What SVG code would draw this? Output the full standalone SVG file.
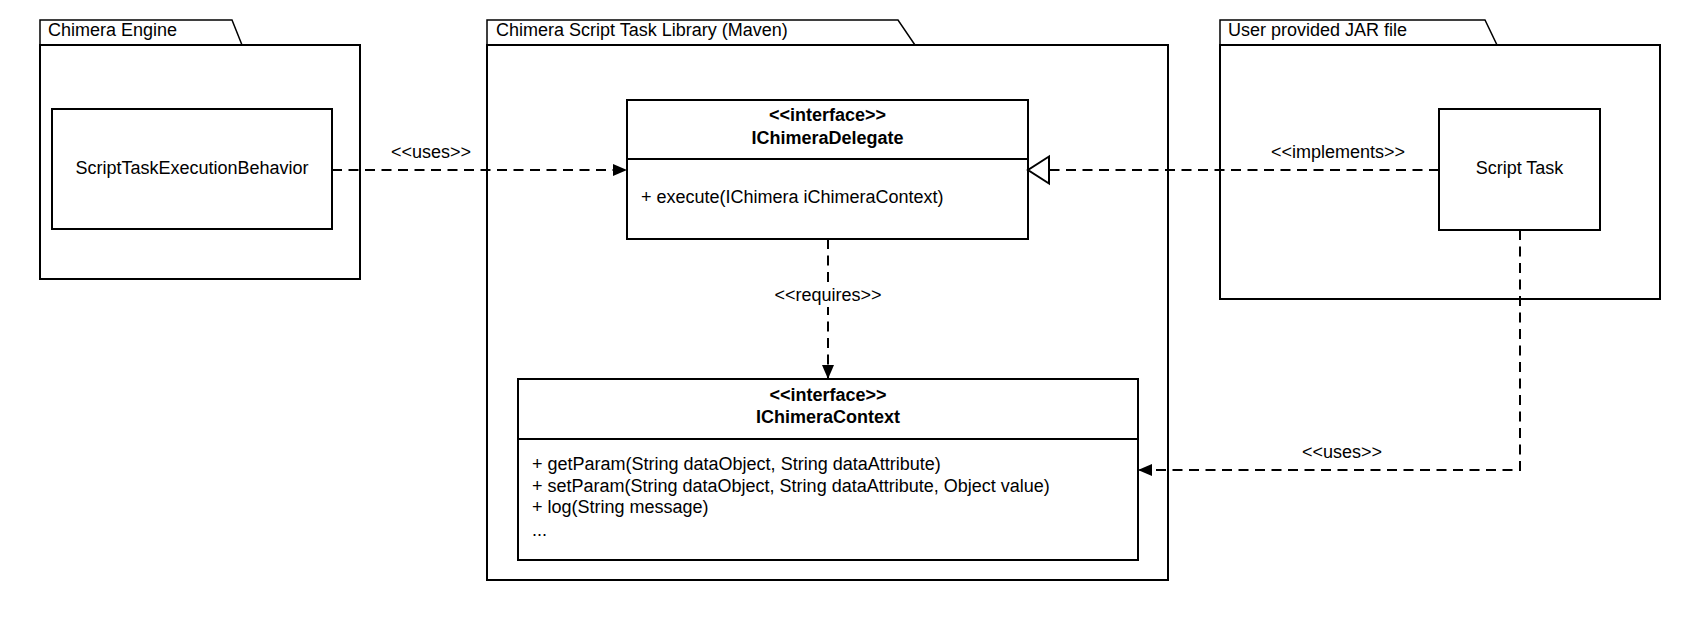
<svg xmlns="http://www.w3.org/2000/svg" width="1700" height="620" viewBox="0 0 1700 620">
<style>
text{font-family:"Liberation Sans",Arial,sans-serif;font-size:18px;fill:#000}
.b{font-weight:bold}
.m{text-anchor:middle}
.pkg{fill:#fff;stroke:#000;stroke-width:2}
.tab{fill:#fff;stroke:#000;stroke-width:1.5}
.box{fill:#fff;stroke:#000;stroke-width:2}
.dash{fill:none;stroke:#000;stroke-width:2;stroke-dasharray:10 6.5}
</style>
<defs>
<marker id="filled" markerWidth="14" markerHeight="12" refX="14" refY="6" orient="auto" markerUnits="userSpaceOnUse">
<path d="M0,0 L14,6 L0,12 Z" fill="#000"/>
</marker>
</defs>
<rect width="1700" height="620" fill="#fff"/>
<g id="pkg-engine">
<path class="tab" d="M40,45 L40,20 L232,20 L242,45 Z"/>
<rect class="pkg" x="40" y="45" width="320" height="234"/>
<text x="48" y="36">Chimera Engine</text>
</g>
<g id="pkg-library">
<path class="tab" d="M487,45 L487,20 L898,20 L915,45 Z"/>
<rect class="pkg" x="487" y="45" width="681" height="535"/>
<text x="496" y="36">Chimera Script Task Library (Maven)</text>
</g>
<g id="pkg-jar">
<path class="tab" d="M1220,45 L1220,20 L1485,20 L1497,45 Z"/>
<rect class="pkg" x="1220" y="45" width="440" height="254"/>
<text x="1228" y="36">User provided JAR file</text>
</g>
<g id="node-behavior">
<rect class="box" x="52" y="109" width="280" height="120"/>
<text class="m" x="192" y="174">ScriptTaskExecutionBehavior</text>
</g>
<g id="node-delegate">
<rect class="box" x="627" y="100" width="401" height="139"/>
<line x1="627" y1="159" x2="1028" y2="159" stroke="#000" stroke-width="2"/>
<text class="m b" x="827.5" y="121">&lt;&lt;interface&gt;&gt;</text>
<text class="m b" x="827.5" y="144">IChimeraDelegate</text>
<text x="641" y="203">+ execute(IChimera iChimeraContext)</text>
</g>
<g id="node-scripttask">
<rect class="box" x="1439" y="109" width="161" height="121"/>
<text class="m" x="1519.5" y="174">Script Task</text>
</g>
<g id="node-context">
<rect class="box" x="518" y="379" width="620" height="181"/>
<line x1="518" y1="439" x2="1138" y2="439" stroke="#000" stroke-width="2"/>
<text class="m b" x="828" y="401">&lt;&lt;interface&gt;&gt;</text>
<text class="m b" x="828" y="423">IChimeraContext</text>
<text x="532" y="470">+ getParam(String dataObject, String dataAttribute)</text>
<text x="532" y="492">+ setParam(String dataObject, String dataAttribute, Object value)</text>
<text x="532" y="513">+ log(String message)</text>
<text x="532" y="536">...</text>
</g>
<g id="connectors">
<path class="dash" d="M332,170 L627,170" marker-end="url(#filled)"/>
<text class="m" x="431" y="158">&lt;&lt;uses&gt;&gt;</text>
<path class="dash" d="M1439,170 L1049,170"/>
<path d="M1049,156.5 L1028,170 L1049,183.5 Z" fill="#fff" stroke="#000" stroke-width="2"/>
<text class="m" x="1338" y="158">&lt;&lt;implements&gt;&gt;</text>
<path class="dash" d="M828,239 L828,379" marker-end="url(#filled)"/>
<rect x="770" y="283" width="116" height="24" fill="#fff"/>
<text class="m" x="828" y="301">&lt;&lt;requires&gt;&gt;</text>
<path class="dash" d="M1520,230 L1520,470 L1138,470" marker-end="url(#filled)"/>
<text class="m" x="1342" y="458">&lt;&lt;uses&gt;&gt;</text>
</g>
</svg>
